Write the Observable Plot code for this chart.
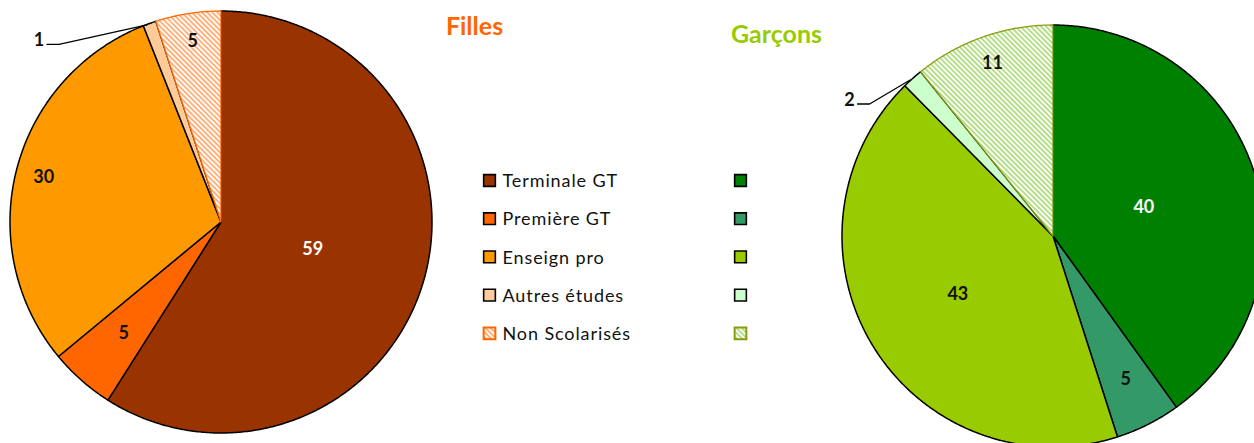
<!DOCTYPE html>
<html><head><meta charset="utf-8">
<script src="https://cdn.jsdelivr.net/npm/d3@7"></script>
<script src="https://cdn.jsdelivr.net/npm/@observablehq/plot@0.6"></script>
<style>html,body{margin:0;padding:0;background:#fff;overflow:hidden} svg{display:block}</style>
</head><body><div id="chart"></div>
<script>
// ---- data ----
const categories = ["Terminale GT", "Première GT", "Enseign pro", "Autres études", "Non Scolarisés"];
const titles = ["Filles", "Garçons"];
const fillesValues = [59, 5, 30, 1, 5];
const garconsValues = [40.1, 5.0, 42.6, 1.6, 10.8];
const fillesLabels = ["59", "5", "30", "1", "5"];
const garconsLabels = ["40", "5", "43", "2", "11"];

// ---- styles / layout ----
const W = 1254, H = 443;
const FONT = "Lato, 'Open Sans', sans-serif";
const pies = [
  {name: "F", title: titles[0], values: fillesValues, labels: fillesLabels, cx: 221, cy: 222, R: 211,
   colors: ["#993300", "#FF6600", "#FF9900", "#FFCC99", "url(#hatchF)"], hatchStroke: "#FF6600",
   labelR: [0.45, 0.70, 0.87, null, 0.87], labelColor: ["#fff", "#111", "#111", "#111", "#111"],
   leader: {slice: 3, dx: -111, dy: 16.5},
   titlePos: [474, 26], titleColor: "#FF6600"},
  {name: "G", title: titles[1], values: garconsValues, labels: garconsLabels, cx: 1053, cy: 236, R: 211,
   colors: ["#008000", "#339966", "#99CC00", "#CCFFCC", "url(#hatchG)"], hatchStroke: "#8C9A10",
   labelR: [0.45, 0.76, 0.53, null, 0.87], labelColor: ["#fff", "#111", "#111", "#111", "#111"],
   leader: {slice: 3, dx: -63.5, dy: 21},
   titlePos: [776, 34], titleColor: "#99CC00"}
];
const legend = {x1: 489, x2: 740, textX: 502, top: 180, gap: 38.2};

// ---- geometry from data ----
const marks = [];
marks.push(() => {
  const defs = d3.create("svg:defs");
  [["hatchF", "#FFB07A"], ["hatchG", "#B2DE86"]].forEach(([id, c]) => {
    const p = defs.append("pattern").attr("id", id).attr("patternUnits", "userSpaceOnUse")
      .attr("width", 3.6).attr("height", 3.6).attr("patternTransform", "rotate(-45)");
    p.append("rect").attr("width", 3.6).attr("height", 3.6).attr("fill", "#fff");
    p.append("rect").attr("width", 1.9).attr("height", 3.6).attr("fill", c);
  });
  return defs.node();
});

for (const pie of pies) {
  const arcs = d3.pie().sort(null).value(d => d)(pie.values);
  const slices = arcs.map((a, i) => {
    const n = Math.max(2, Math.ceil((a.endAngle - a.startAngle) / (Math.PI / 360)));
    const pts = d3.range(n + 1).map(k => {
      const t = a.startAngle + (a.endAngle - a.startAngle) * k / n;
      return {x1: pie.cx, y1: pie.cy, x2: pie.cx + pie.R * Math.sin(t), y2: pie.cy - pie.R * Math.cos(t)};
    });
    return {i, pts, mid: (a.startAngle + a.endAngle) / 2};
  });
  for (const i of [0, 1, 2, 3, 4]) {
    const hatched = i === 4;
    marks.push(Plot.area(slices[i].pts, {
      x1: "x1", y1: "y1", x2: "x2", y2: "y2",
      fill: pie.colors[i], stroke: hatched ? pie.hatchStroke : "#000",
      strokeWidth: hatched ? 1.3 : 1.5, strokeLinejoin: "round"
    }));
  }
  const lab = slices.filter(s => pie.labelR[s.i] != null).map(s => ({
    x: pie.cx + pie.R * pie.labelR[s.i] * Math.sin(s.mid),
    y: pie.cy - pie.R * pie.labelR[s.i] * Math.cos(s.mid),
    text: pie.labels[s.i], color: pie.labelColor[s.i]
  }));
  for (const l of lab) {
    marks.push(Plot.text([l], {x: "x", y: "y", text: "text", fill: l.color, fontSize: 18, fontWeight: "bold", fontFamily: FONT}));
  }
  const s = slices[pie.leader.slice];
  const ax = pie.cx + pie.R * Math.sin(s.mid), ay = pie.cy - pie.R * Math.cos(s.mid);
  const lx = ax + pie.leader.dx, ly = ay + pie.leader.dy;
  marks.push(Plot.line([{x: lx + 8, y: ly + 4}, {x: lx + 20, y: ly + 4}, {x: ax - 3, y: ay + 1}],
    {x: "x", y: "y", stroke: "#000", strokeWidth: 1.3}));
  marks.push(Plot.text([{x: lx, y: ly, text: pie.labels[pie.leader.slice]}],
    {x: "x", y: "y", text: "text", fill: "#111", fontSize: 18, fontWeight: "bold", fontFamily: FONT}));
  marks.push(Plot.text([{x: pie.titlePos[0], y: pie.titlePos[1], text: pie.title}],
    {x: "x", y: "y", text: "text", fill: pie.titleColor, fontSize: 25, fontWeight: "bold", fontFamily: FONT}));
}

// legend
const legendRows = categories.map((c, i) => ({c, i, y: legend.top + i * legend.gap}));
for (const row of legendRows) {
  const hatched = row.i === 4;
  marks.push(Plot.dot([row], {x: () => legend.x1, y: "y", symbol: "square", r: 6.6,
    fill: pies[0].colors[row.i], stroke: hatched ? pies[0].hatchStroke : "#000", strokeWidth: hatched ? 2 : 1.6}));
  marks.push(Plot.dot([row], {x: () => legend.x2, y: "y", symbol: "square", r: 6.6,
    fill: pies[1].colors[row.i], stroke: hatched ? pies[1].hatchStroke : "#000", strokeWidth: hatched ? 2 : 1.6}));
}
marks.push(Plot.text(legendRows, {x: () => legend.textX, y: "y", text: "c", textAnchor: "start",
  fill: "#111", fontSize: 18, fontFamily: FONT, dy: 1}));

const chart = Plot.plot({
  width: W, height: H, margin: 0,
  x: {domain: [0, W], range: [0, W], axis: null},
  y: {domain: [0, H], range: [0, H], axis: null},
  style: {background: "#fff", fontFamily: FONT, overflow: "hidden"},
  marks
});
const textGroups = chart.querySelectorAll('g[aria-label="text"]');
textGroups[textGroups.length - 1].style.letterSpacing = "0.9px";
document.getElementById("chart").appendChild(chart);
</script>
</body></html>
